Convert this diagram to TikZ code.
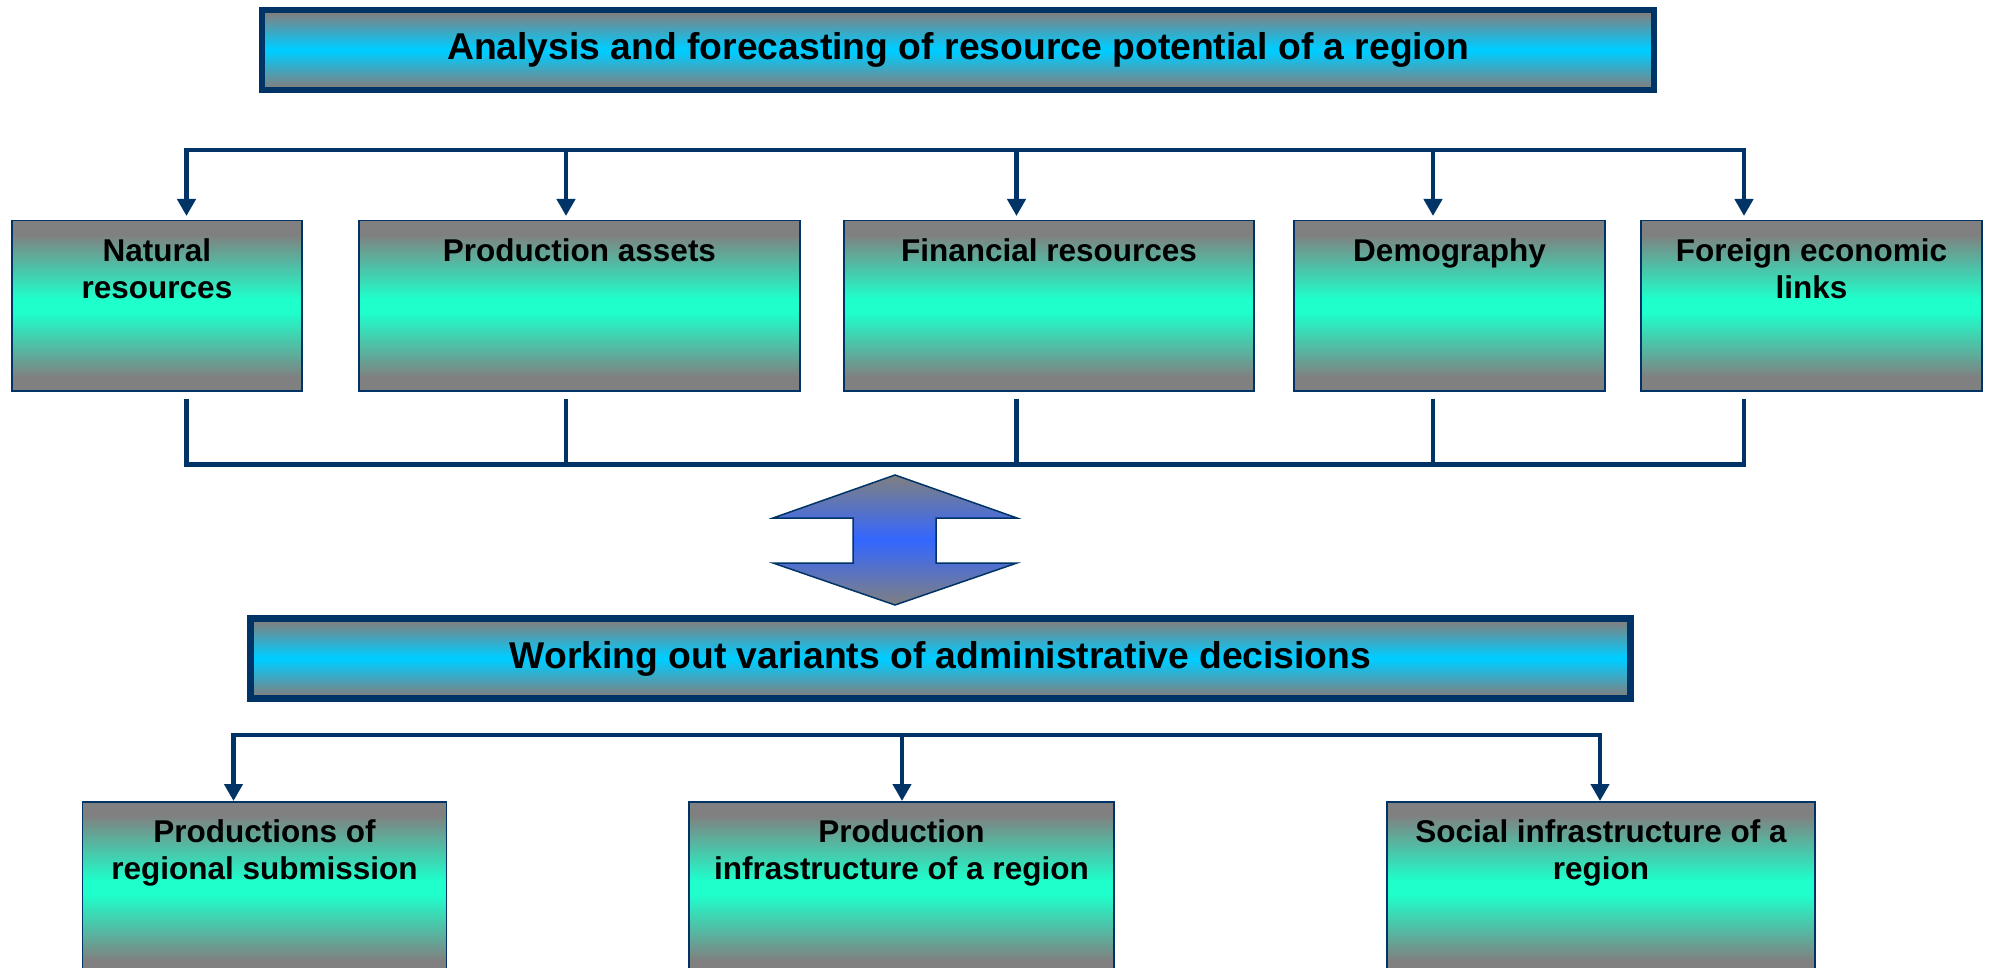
\documentclass[tikz,border=0pt]{standalone}
\usepackage{fontspec}
\setmainfont{Liberation Sans}
\usetikzlibrary{arrows.meta}
\definecolor{navy}{RGB}{0,51,102}
\definecolor{boxgray}{RGB}{128,128,128}
\definecolor{boxgreen}{RGB}{30,255,204}
\definecolor{bannercyan}{RGB}{0,204,255}
\definecolor{arrowblue}{RGB}{51,102,255}
\pgfdeclareverticalshading{greenshade}{100bp}{color(0bp)=(boxgray); color(29bp)=(boxgray);
  color(48bp)=(boxgreen); color(52bp)=(boxgreen); color(71bp)=(boxgray); color(100bp)=(boxgray)}
\pgfdeclareverticalshading{cyanshade}{100bp}{color(0bp)=(boxgray); color(27bp)=(boxgray);
  color(49bp)=(bannercyan); color(51bp)=(bannercyan); color(73bp)=(boxgray); color(100bp)=(boxgray)}
\newcommand{\boxtxt}[3]{\parbox[c][#2pt][t]{#1pt}{\centering\rule{0pt}{41pt}#3}}
\begin{document}
\begin{tikzpicture}[x=1pt,y=-1pt,
  banner/.style={draw=navy, line width=6.5pt, shading=cyanshade,
    inner sep=0pt, font=\fontsize{37.3}{44}\selectfont\bfseries},
  resbox/.style={draw=navy, line width=1.5pt, shading=greenshade,
    inner sep=0pt, anchor=north,
    font=\fontsize{31.5}{37}\selectfont\bfseries},
  bus/.style={draw=navy, line width=4.5pt, line cap=rect},
  stem/.style={draw=navy, line width=4.5pt},
  arr/.style={stem, -{Triangle[width=18pt,length=17pt]}},
  bigarrow/.style={draw=navy, line width=1.5pt, top color=boxgray, bottom color=boxgray,
    middle color=arrowblue, line join=miter}
]
\useasboundingbox (0,0) rectangle (1990,968);
\clip (0,0) rectangle (1990,968);

% top banner
\node[banner, minimum width=1392pt, minimum height=80pt] (top) at (958,50)
  {Analysis and forecasting of resource potential of a region};

% resource boxes
\node[resbox] (n1) at (157,220) {\boxtxt{290}{170}{Natural\\resources}};
\node[resbox] (n2) at (579.5,220) {\boxtxt{441}{170}{Production assets}};
\node[resbox] (n3) at (1049,220) {\boxtxt{410}{170}{Financial resources}};
\node[resbox] (n4) at (1449.5,220) {\boxtxt{311}{170}{Demography}};
\node[resbox] (n5) at (1811.5,220) {\boxtxt{341}{170}{Foreign economic\\links}};

% top bus
\coordinate (t1) at (186.5,150);
\coordinate (t2) at (566,150);
\coordinate (t3) at (1016.5,150);
\coordinate (t4) at (1433,150);
\coordinate (t5) at (1744,150);
\draw[bus] (t1) -- (t5);
\foreach \i in {1,...,5}{
  \draw[arr, shorten >=4pt] (t\i) -- (t\i |- n\i.north);
}

% lower bus
\coordinate (b1) at (186.5,464.5);
\coordinate (b2) at (566,464.5);
\coordinate (b3) at (1016.5,464.5);
\coordinate (b4) at (1433,464.5);
\coordinate (b5) at (1744,464.5);
\draw[bus] (b1) -- (b5);
\foreach \i in {1,...,5}{
  \draw[stem] ([yshift=-7pt]n\i.south -| b\i) -- (b\i);
}

% double arrow
\shadedraw[bigarrow] (895,475) -- (1017,518) -- (936,518) -- (936,563) -- (1017,563)
  -- (895,605) -- (773,563) -- (853,563) -- (853,518) -- (773,518) -- cycle;

% second banner
\node[banner, minimum width=1380pt, minimum height=80pt] (mid) at (940.5,658.5)
  {Working out variants of administrative decisions};

% bottom bus
\coordinate (c1) at (233.5,735);
\coordinate (c2) at (902,735);
\coordinate (c3) at (1600,735);
\draw[bus] (c1) -- (c3);

% bottom boxes
\node[resbox] (m1) at (264.5,801) {\boxtxt{364}{172}{Productions of\\regional submission}};
\node[resbox] (m2) at (901.5,801) {\boxtxt{425}{172}{Production\\infrastructure of a region}};
\node[resbox] (m3) at (1601,801) {\boxtxt{428}{172}{Social infrastructure of a\\region}};

\foreach \i in {1,2,3}{
  \draw[arr] (c\i) -- (c\i |- m\i.north);
}
\end{tikzpicture}
\end{document}
